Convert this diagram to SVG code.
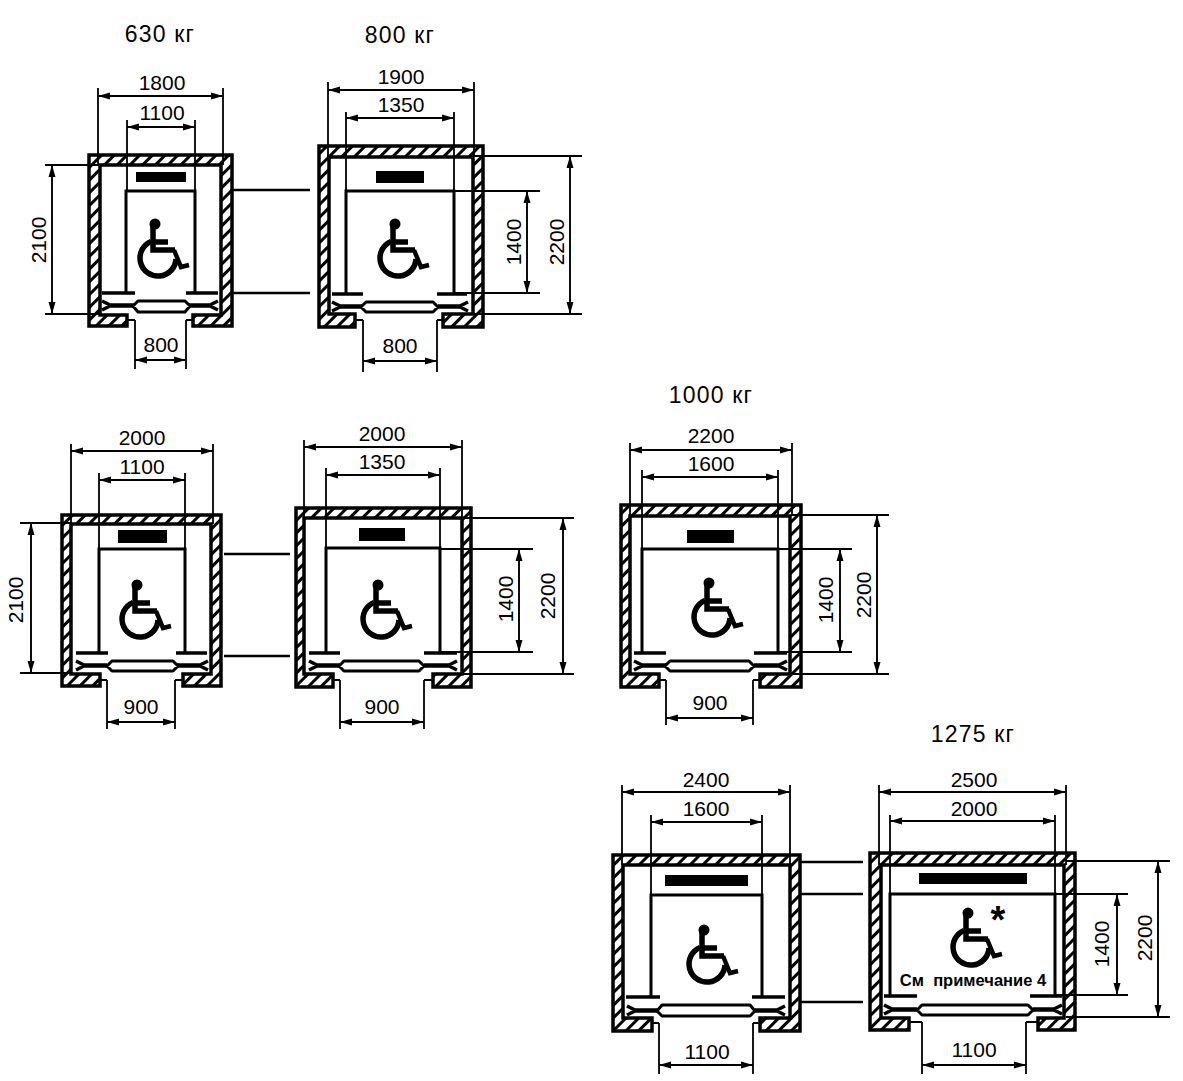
<svg xmlns="http://www.w3.org/2000/svg" width="1183" height="1081" viewBox="0 0 1183 1081">
<style>
text{font-family:"Liberation Sans",Arial,sans-serif;font-size:21px;fill:#000;text-anchor:middle}
.t{font-size:23px;letter-spacing:1.2px}
.wall{fill:url(#h);stroke:#000;stroke-width:3.5;fill-rule:evenodd;stroke-linejoin:miter}
.cab{fill:none;stroke:#000;stroke-width:3}
.led{fill:none;stroke:#000;stroke-width:3.5}
.band{fill:none;stroke:#000;stroke-width:3.5}
.pill{fill:#fff;stroke:#000;stroke-width:3;stroke-linejoin:round}
.ext{fill:none;stroke:#000;stroke-width:1.8}
.dim{fill:none;stroke:#000;stroke-width:1.9;marker-start:url(#a);marker-end:url(#a)}
.ln{fill:none;stroke:#000;stroke-width:2.4}
</style>
<defs>
<pattern id="h" width="9" height="9" patternUnits="userSpaceOnUse" patternTransform="rotate(45)"><rect width="9" height="9" fill="#fff"/><rect width="3" height="9" fill="#000"/></pattern>
<marker id="a" markerWidth="13" markerHeight="9" refX="12" refY="4.5" orient="auto-start-reverse" markerUnits="userSpaceOnUse"><path d="M0 1L12 4.5L0 8Z" fill="#000"/></marker>
<g id="wc">
<circle cx="0" cy="0" r="5.5" fill="#000"/>
<path d="M-2 2V26H20M-2 18H13" fill="none" stroke="#000" stroke-width="5.5"/>
<path d="M-4 17.5A18 18 0 1 0 21 35" fill="none" stroke="#000" stroke-width="5.5"/>
<path d="M19 26L26 43L34 41" fill="none" stroke="#000" stroke-width="4.5"/>
</g>
</defs>
<rect width="1183" height="1081" fill="#fff"/>
<g id="titles">
<text class="t" x="160" y="42">630 кг</text>
<text class="t" x="400" y="43">800 кг</text>
<text class="t" x="711" y="403">1000 кг</text>
<text class="t" x="973" y="742">1275 кг</text>
</g>
<g id="lift-1">
<path class="wall" d="M89 155H232V326H193V315H221V165H100V315H127V326H89Z"/>
<rect x="136" y="172" width="50" height="10"/>
<path class="cab" d="M126 292V191H195V292"/>
<path class="led" d="M102 293H135M186 293H218"/>
<path class="band" d="M102 301L110 305H134M102 310L110 306H134M218 301L210 305H188M218 310L210 306H188"/>
<path class="pill" d="M133 306L138 301H185L190 306L185 312H138Z"/>
<use href="#wc" x="155" y="224"/>
</g>
<g id="lift-2">
<path class="wall" d="M319 146H483V327H443V314H473V157H329V314H355V327H319Z"/>
<rect x="376" y="171" width="48" height="12"/>
<path class="cab" d="M346 293V191H454V293"/>
<path class="led" d="M332 294H363M437 294H467"/>
<path class="band" d="M332 302L340 306H363M332 311L340 307H363M468 302L460 306H438M468 311L460 307H438"/>
<path class="pill" d="M361 307L366 302H433L438 307L433 312H366Z"/>
<use href="#wc" x="395" y="224"/>
</g>
<g id="lift-3">
<path class="wall" d="M62 515H221V686H183V674H211V524H71V674H100V686H62Z"/>
<rect x="118" y="530" width="49" height="13"/>
<path class="cab" d="M99 652V549H185V652"/>
<path class="led" d="M76 653H108M176 653H207"/>
<path class="band" d="M76 661L84 665H107M76 670L84 666H107M208 661L200 665H177M208 670L200 666H177"/>
<path class="pill" d="M107 666L112 661H173L178 666L173 671H112Z"/>
<use href="#wc" x="137" y="585"/>
</g>
<g id="lift-4">
<path class="wall" d="M296 508H471V687H433V674H462V518H304V674H333V687H296Z"/>
<rect x="359" y="528" width="46" height="13"/>
<path class="cab" d="M326 652V548H440V652"/>
<path class="led" d="M309 653H340M424 653H457"/>
<path class="band" d="M309 661L317 665H340M309 670L317 666H340M457 661L449 665H424M457 670L449 666H424"/>
<path class="pill" d="M339 666L344 661H419L424 666L419 671H344Z"/>
<use href="#wc" x="378" y="585"/>
</g>
<g id="lift-5">
<path class="wall" d="M621 505H801V687H760V674H790V516H630V674H659V687H621Z"/>
<rect x="687" y="530" width="47" height="13"/>
<path class="cab" d="M642 652V549H778V652"/>
<path class="led" d="M634 653H666M754 653H787"/>
<path class="band" d="M634 661L642 665H666M634 670L642 666H666M787 661L779 665H754M787 670L779 666H754"/>
<path class="pill" d="M665 666L670 661H749L754 666L749 671H670Z"/>
<use href="#wc" x="709" y="583"/>
</g>
<g id="lift-6">
<path class="wall" d="M613 855H800V1031H760V1018H790V865H623V1018H652V1031H613Z"/>
<rect x="665" y="875" width="83" height="11"/>
<path class="cab" d="M651 996V895H762V996"/>
<path class="led" d="M626 997H660M752 997H785"/>
<path class="band" d="M627 1006L635 1010H658M627 1015L635 1011H658M785 1006L777 1010H755M785 1015L777 1011H755"/>
<path class="pill" d="M657 1011L662 1005H750L755 1011L750 1016H662Z"/>
<use href="#wc" x="704" y="930"/>
</g>
<g id="lift-7">
<path class="wall" d="M870 853H1075V1030H1038V1018H1064V865H881V1018H909V1030H870Z"/>
<rect x="919" y="873" width="108" height="11"/>
<path class="cab" d="M890 995V894H1055V995"/>
<path class="led" d="M884 996H917M1030 996H1062"/>
<path class="band" d="M884 1005L892 1009H917M884 1014L892 1010H917M1062 1005L1054 1009H1033M1062 1014L1054 1010H1033"/>
<path class="pill" d="M917 1010L922 1005H1028L1033 1010L1028 1015H922Z"/>
<use href="#wc" x="968" y="913"/>
<text x="998" y="933" style="font-size:38px;font-weight:bold">*</text>
<text x="973" y="986" style="font-size:16.5px;font-weight:bold" xml:space="preserve">См  примечание 4</text>
</g>
<g id="connectors">
<path class="ext" d="M98 88V165M223 88V165M127 120V190M195 120V190M45 165H100M45 314H100M135 320V369M186 320V369M127 320H135M186 320H193"/>
<path class="dim" d="M98 96H223"/><path class="dim" d="M127 127H195"/><path class="dim" d="M52 165V314"/><path class="dim" d="M135 360H186"/>
<path class="ln" d="M233 190H310M233 293H310"/>
<path class="ext" d="M328 82V157M474 82V157M346 112V191M454 112V191M363 320V372M437 320V372M355 320H363M437 320H443M454 191H540M454 293H540M474 156H582M474 314H582"/>
<path class="dim" d="M328 90H474"/><path class="dim" d="M346 118H454"/><path class="dim" d="M363 361H437"/><path class="dim" d="M527 191V293"/><path class="dim" d="M570 156V314"/>

<path class="ext" d="M71 444V524M213 444V524M99 473V549M185 473V549M20 523H71M20 673H71M107 680V729M175 680V729M100 680H107M175 680H183"/>
<path class="dim" d="M71 451H213"/><path class="dim" d="M99 480H185"/><path class="dim" d="M31 523V673"/><path class="dim" d="M107 722H175"/>
<path class="ln" d="M224 554H290M224 656H290"/>
<path class="ext" d="M304 440V518M462 440V518M326 468V548M440 468V548M340 680V729M424 680V729M333 680H340M424 680H433M440 549H533M440 652H533M462 518H574M462 674H574"/>
<path class="dim" d="M304 447H462"/><path class="dim" d="M326 475H440"/><path class="dim" d="M340 722H424"/><path class="dim" d="M519 549V652"/><path class="dim" d="M563 518V674"/>

<path class="ext" d="M630 443V516M792 443V516M642 470V549M778 470V549M666 680V725M753 680V725M659 680H666M753 680H760M778 549H852M778 652H852M791 515H889M791 674H889"/>
<path class="dim" d="M630 450H792"/><path class="dim" d="M642 477H778"/><path class="dim" d="M666 718H753"/><path class="dim" d="M840 549V652"/><path class="dim" d="M877 515V674"/>

<path class="ext" d="M622 785V865M790 785V865M651 815V895M762 815V895M659 1023V1074M753 1023V1074M652 1023H659M753 1023H760"/>
<path class="dim" d="M622 792H790"/><path class="dim" d="M651 822H762"/><path class="dim" d="M659 1065H753"/>
<path class="ln" d="M801 862H863M801 894H863M801 1002H863"/>
<path class="ext" d="M879 785V865M1066 785V865M890 815V894M1055 815V894M922 1022V1074M1026 1022V1074M909 1022H922M1026 1022H1038M1055 894H1128M1055 995H1128M1066 861H1170M1066 1017H1170"/>
<path class="dim" d="M879 792H1066"/><path class="dim" d="M890 821H1055"/><path class="dim" d="M922 1065H1026"/><path class="dim" d="M1117 894V995"/><path class="dim" d="M1158 861V1017"/>
</g>
<g id="labels">
<text x="162" y="90">1800</text><text x="162" y="120">1100</text><text x="161" y="352">800</text>
<text transform="translate(46 240) rotate(-90)">2100</text>
<text x="401" y="84">1900</text><text x="401" y="112">1350</text><text x="400" y="353">800</text>
<text transform="translate(521 242) rotate(-90)">1400</text><text transform="translate(564 242) rotate(-90)">2200</text>

<text x="142" y="445">2000</text><text x="142" y="474">1100</text><text x="141" y="714">900</text>
<text transform="translate(23 600) rotate(-90)">2100</text>
<text x="382" y="441">2000</text><text x="382" y="469">1350</text><text x="382" y="714">900</text>
<text transform="translate(513 599) rotate(-90)">1400</text><text transform="translate(555 596) rotate(-90)">2200</text>

<text x="711" y="443">2200</text><text x="711" y="471">1600</text><text x="710" y="710">900</text>
<text transform="translate(833 600) rotate(-90)">1400</text><text transform="translate(871 595) rotate(-90)">2200</text>

<text x="706" y="787">2400</text><text x="706" y="816">1600</text><text x="707" y="1059">1100</text>
<text x="974" y="787">2500</text><text x="974" y="816">2000</text><text x="974" y="1057">1100</text>
<text transform="translate(1109 944) rotate(-90)">1400</text><text transform="translate(1152 938) rotate(-90)">2200</text>
</g>
</svg>
